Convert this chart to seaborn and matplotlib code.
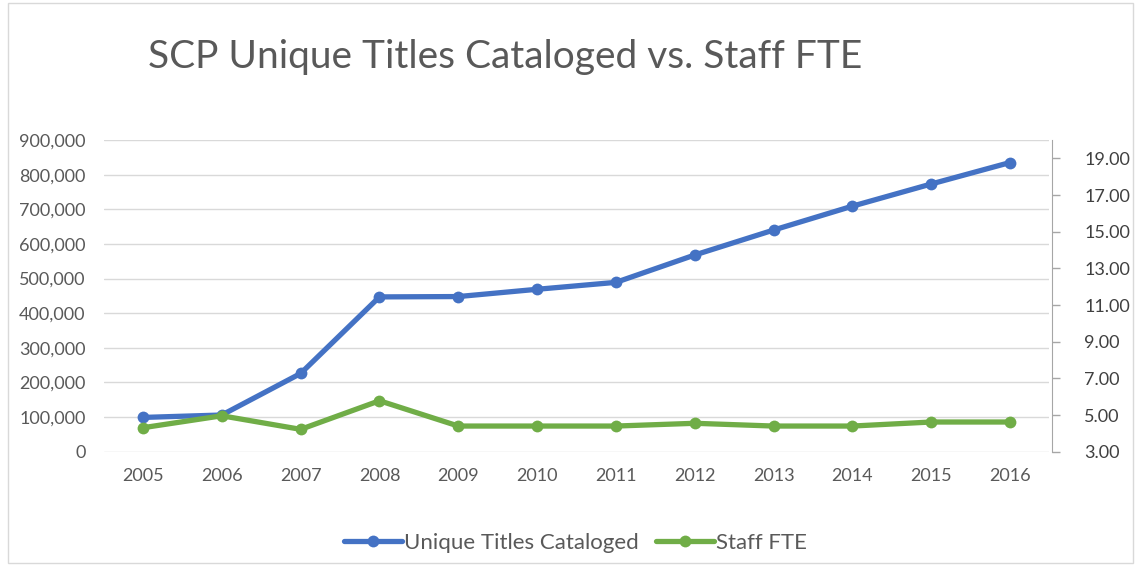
import pandas as pd
import matplotlib.pyplot as plt
import seaborn as sns
from matplotlib.ticker import FuncFormatter, FixedLocator
from matplotlib.patches import Rectangle

# --- data ---
years = ['2005', '2006', '2007', '2008', '2009', '2010',
         '2011', '2012', '2013', '2014', '2015', '2016']
titles_cataloged = [99000, 106000, 226000, 447000, 448000, 469000,
                    489000, 568000, 640000, 709000, 773000, 835000]
staff_fte = [4.31, 4.96, 4.22, 5.78, 4.40, 4.40,
             4.40, 4.55, 4.40, 4.40, 4.62, 4.62]

left_ticks = list(range(0, 900001, 100000))
right_ticks = [3, 5, 7, 9, 11, 13, 15, 17, 19]

df = pd.DataFrame({'Year': years, 'Titles': titles_cataloged, 'FTE': staff_fte})

sns.set_style('white')
plt.rcParams['font.family'] = ['Lato', 'DejaVu Sans']

BLUE = '#4472C4'
GREEN = '#70AD47'
GRAY_TXT = '#595959'
GRID = '#D9D9D9'

fig = plt.figure(figsize=(11.35, 5.65), dpi=100)
ax = fig.add_axes([0.0913, 0.2005, 0.8333, 0.5517])
ax2 = ax.twinx()

sns.lineplot(data=df, x='Year', y='Titles', ax=ax, color=BLUE, marker='o',
             markersize=8.5, linewidth=3.8, markeredgewidth=0, sort=False,
             label='Unique Titles Cataloged', legend=False)
sns.lineplot(data=df, x='Year', y='FTE', ax=ax2, color=GREEN, marker='o',
             markersize=8.5, linewidth=3.8, markeredgewidth=0, sort=False,
             label='Staff FTE', legend=False)

ax.set_xlim(-0.5, len(years) - 0.5)
ax.set_ylim(0, 900000)
ax.yaxis.set_major_locator(FixedLocator(left_ticks))
ax.yaxis.set_major_formatter(FuncFormatter(lambda v, p: f'{int(v):,}'))
ax.grid(axis='y', color=GRID, linewidth=1)
ax.set_axisbelow(True)
ax.set_xlabel('')
ax.set_ylabel('')
ax.tick_params(axis='y', length=0, pad=13, labelsize=13, labelcolor=GRAY_TXT)
ax.tick_params(axis='x', length=0, pad=12, labelsize=13, labelcolor=GRAY_TXT)
for s in ['top', 'left', 'right', 'bottom']:
    ax.spines[s].set_visible(False)

ax2.set_ylim(3, 20)
ax2.yaxis.set_major_locator(FixedLocator(right_ticks))
ax2.yaxis.set_major_formatter(FuncFormatter(lambda v, p: f'{v:.2f}'))
ax2.set_ylabel('')
ax2.tick_params(axis='y', direction='out', length=6, width=1, color='#A6A6A6',
                pad=17, labelsize=13, labelcolor='#404040')
for s in ['top', 'left', 'bottom']:
    ax2.spines[s].set_visible(False)
ax2.spines['right'].set_color('#A6A6A6')
ax2.spines['right'].set_position(('outward', 2))

fig.text(148 / 1135, 1 - 57 / 565, 'SCP Unique Titles Cataloged vs. Staff FTE',
         fontsize=28, color=GRAY_TXT, ha='left', va='center')

h1, l1 = ax.get_legend_handles_labels()
h2, l2 = ax2.get_legend_handles_labels()
fig.legend(h1 + h2, l1 + l2, loc='center', bbox_to_anchor=(0.507, 1 - 543 / 565),
           ncol=2, frameon=False, fontsize=16, labelcolor=GRAY_TXT,
           handlelength=2.6, handletextpad=0.1, columnspacing=0.8)

fig.patches.append(Rectangle((0.007, 0.004), 0.991, 0.99, transform=fig.transFigure,
                             fill=False, edgecolor=GRID, linewidth=1))

fig.savefig('out.png', dpi=100)
